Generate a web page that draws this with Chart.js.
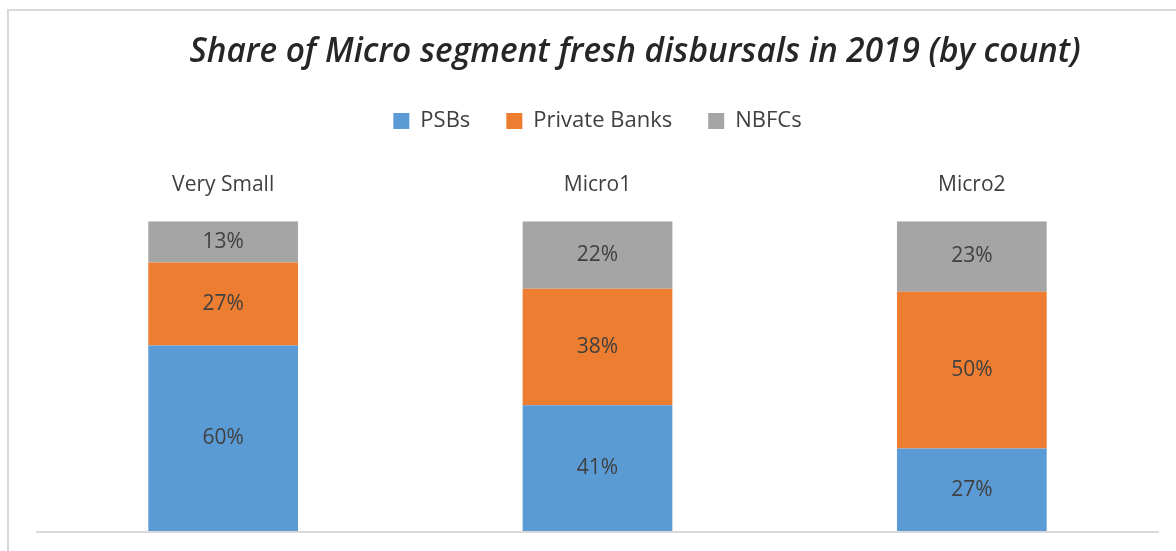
<!DOCTYPE html>
<html><head><meta charset="utf-8">
<script src="https://cdn.jsdelivr.net/npm/chart.js@4"></script>
<style>
html,body{margin:0;padding:0;background:#fff;}
#wrap{position:absolute;left:0;top:0;width:1176px;height:551px;}
#frame{position:absolute;left:7px;top:9px;width:1200px;height:600px;border:2px solid #d9d9d9;box-sizing:border-box;}
canvas{position:absolute;left:0;top:0;}
</style></head><body>
<div id="wrap"><div id="frame"></div><canvas id="c" width="1176" height="551"></canvas></div>
<script>
const categories = ["Very Small", "Micro1", "Micro2"];
const psbs = [60.0, 40.8, 26.9];
const privateBanks = [26.7, 37.5, 50.4];
const nbfcs = [13.3, 21.7, 22.7];
const seriesNames = ["PSBs", "Private Banks", "NBFCs"];
const titleText = "Share of Micro segment fresh disbursals in 2019 (by count)";

const FONT = "'Open Sans', sans-serif";

const labelPlugin = {
  id: 'barLabels',
  afterDatasetsDraw(chart) {
    const ctx = chart.ctx;
    ctx.save();
    ctx.font = "21px " + FONT;
    ctx.fillStyle = '#404040';
    ctx.textAlign = 'center';
    ctx.textBaseline = 'middle';
    chart.data.datasets.forEach((ds, i) => {
      chart.getDatasetMeta(i).data.forEach((bar, j) => {
        const {x, y, base} = bar.getProps(['x','y','base'], true);
        ctx.fillText(Math.round(ds.data[j]) + '%', x, (y + base) / 2);
      });
    });
    ctx.restore();
  }
};

const titlePlugin = {
  id: 'customTitle',
  afterDraw(chart) {
    const ctx = chart.ctx;
    ctx.save();
    ctx.font = "italic 600 33.4px " + FONT;
    ctx.fillStyle = '#262626';
    ctx.textAlign = 'center';
    ctx.textBaseline = 'middle';
    ctx.fillText(titleText, 635, 52);
    ctx.restore();
  }
};

new Chart(document.getElementById('c'), {
  type: 'bar',
  data: {
    labels: categories,
    datasets: [
      {label: seriesNames[0], data: psbs, backgroundColor: '#5B9BD5', borderWidth: 0},
      {label: seriesNames[1], data: privateBanks, backgroundColor: '#ED7D31', borderWidth: 0},
      {label: seriesNames[2], data: nbfcs, backgroundColor: '#A5A5A5', borderWidth: 0}
    ]
  },
  options: {
    responsive: false,
    animation: false,
    layout: {padding: {left: 36, right: 17, top: 74, bottom: 19}},
    datasets: {bar: {categoryPercentage: 1.0, barPercentage: 0.4}},
    plugins: {
      title: {display: false},
      legend: {
        display: true, position: 'top',
        labels: {
          color: '#404040', font: {family: FONT, size: 22},
          boxWidth: 16, boxHeight: 16, padding: 36
        }
      },
      tooltip: {enabled: false}
    },
    scales: {
      x: {
        stacked: true, position: 'top',
        grid: {display: false}, border: {display: false},
        ticks: {color: '#404040', font: {family: FONT, size: 21}, padding: 16},
        afterFit: (axis) => { axis.height += 14; }
      },
      y: {
        stacked: true, min: 0, max: 100,
        ticks: {display: false, stepSize: 100},
        border: {display: false},
        grid: {
          drawTicks: false,
          color: (c) => c.tick && c.tick.value === 0 ? '#d9d9d9' : 'rgba(0,0,0,0)',
          lineWidth: 2
        }
      }
    }
  },
  plugins: [labelPlugin, titlePlugin]
});
</script>
</body></html>
